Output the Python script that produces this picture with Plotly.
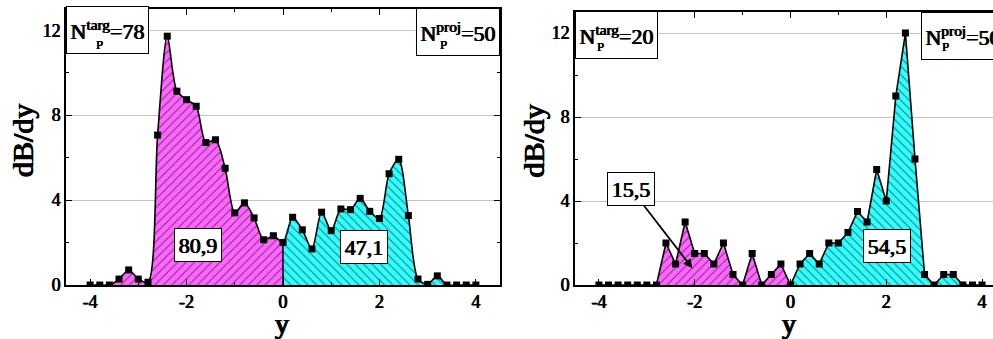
import plotly.graph_objects as go

# ---------------- data ----------------
rapidity = [-4.0, -3.8, -3.6, -3.4, -3.2, -3.0, -2.8, -2.6, -2.4, -2.2, -2.0,
            -1.8, -1.6, -1.4, -1.2, -1.0, -0.8, -0.6, -0.4, -0.2, 0.0,
            0.2, 0.4, 0.6, 0.8, 1.0, 1.2, 1.4, 1.6, 1.8, 2.0,
            2.2, 2.4, 2.6, 2.8, 3.0, 3.2, 3.4, 3.6, 3.8, 4.0]

dbdy_left = [0.0, 0.0, 0.0, 0.28, 0.71, 0.28, 0.13, 7.06, 11.72, 9.13, 8.73,
             8.42, 6.71, 6.84, 5.5, 3.4, 3.87, 3.16, 2.13, 2.32, 2.0,
             3.19, 2.6, 1.7, 3.43, 2.56, 3.58, 3.55, 4.08, 3.47, 3.13,
             5.24, 5.92, 3.27, 0.28, 0.03, 0.43, 0.0, 0.0, 0.0, 0.0]

dbdy_right = [0.0, 0.0, 0.0, 0.0, 0.0, 0.0, 0.0, 2.0, 1.0, 3.0, 1.5,
              1.5, 1.0, 2.0, 0.5, 0.0, 1.5, 0.0, 0.5, 1.0, 0.0,
              1.0, 1.5, 1.0, 2.0, 2.0, 2.5, 3.5, 3.0, 5.5, 4.0,
              9.0, 12.0, 6.0, 0.5, 0.0, 0.5, 0.5, 0.0, 0.0, 0.0]

left_box_labels = ["80,9", "47,1"]
right_box_labels = ["15,5", "54,5"]
np_labels_left = ("targ", "78", "proj", "50")
np_labels_right = ("targ", "20", "proj", "50")
x_ticks = [-4, -2, 0, 2, 4]
y_ticks = [0, 4, 8, 12]

# ---------------- style ----------------
W, H = 993, 339
FONT = "Liberation Serif"
MAGENTA = "#FF66FF"
CYAN = "#33FFFF"


def bold_shadow(d):
    # emulate a bold face by thickening the strokes horizontally
    return "%.2fpx 0 0 black, -%.2fpx 0 0 black" % (d, d)


def px(x):
    return x / W


def py(y):
    return 1 - y / H


fig = go.Figure()


def add_panel(xa, ya, values, shape, smoothing):
    neg_x = [x for x in rapidity if x <= 0]
    neg_y = [v for x, v in zip(rapidity, values) if x <= 0]
    pos_x = [x for x in rapidity if x >= 0]
    pos_y = [v for x, v in zip(rapidity, values) if x >= 0]
    line_kw = dict(width=0, shape=shape, color="rgba(0,0,0,0)")
    if shape == "spline":
        line_kw["smoothing"] = smoothing
    fig.add_trace(go.Scatter(
        x=neg_x, y=neg_y, mode="lines", fill="tozeroy", line=line_kw,
        fillcolor=MAGENTA,
        fillpattern=dict(shape="/", fgcolor="black", bgcolor=MAGENTA,
                         size=6, solidity=0.18),
        xaxis=xa, yaxis=ya, hoverinfo="skip"))
    fig.add_trace(go.Scatter(
        x=pos_x, y=pos_y, mode="lines", fill="tozeroy", line=line_kw,
        fillcolor=CYAN,
        fillpattern=dict(shape="\\", fgcolor="black", bgcolor=CYAN,
                         size=6, solidity=0.18),
        xaxis=xa, yaxis=ya, hoverinfo="skip"))
    v0 = values[rapidity.index(0.0)]
    fig.add_trace(go.Scatter(
        x=[0.0, 0.0], y=[0, v0], mode="lines",
        line=dict(color="black", width=1.5), xaxis=xa, yaxis=ya))
    main_line = dict(color="black", width=1.6, shape=shape)
    if shape == "spline":
        main_line["smoothing"] = smoothing
    fig.add_trace(go.Scatter(
        x=rapidity, y=values, mode="lines+markers", line=main_line,
        marker=dict(symbol="square", size=7, color="black"),
        xaxis=xa, yaxis=ya))


add_panel("x", "y", dbdy_left, "spline", 0.8)
add_panel("x2", "y2", dbdy_right, "linear", 0)

tickfont = dict(family=FONT, size=18, color="black", shadow=bold_shadow(0.45))
common_x = dict(
    tickvals=x_ticks, ticktext=[str(t) for t in x_ticks],
    ticks="inside", ticklen=6, tickwidth=1, tickcolor="black",
    minor=dict(dtick=1, tick0=0, ticks="inside", ticklen=3, tickcolor="black"),
    showline=True, linecolor="black", linewidth=1.5,
    showgrid=False, zeroline=False, tickfont=tickfont, automargin=False)
common_y = dict(
    range=[0, 13], tickvals=y_ticks, ticktext=[str(t) for t in y_ticks],
    ticks="inside", ticklen=6, tickwidth=1, tickcolor="black",
    minor=dict(dtick=2, tick0=0, ticks="inside", ticklen=3, tickcolor="black",
               showgrid=False),
    showline=True, linecolor="black", linewidth=1.5,
    showgrid=True, gridcolor="#c4c4c4", gridwidth=1,
    zeroline=False, tickfont=tickfont, automargin=False)

fig.update_layout(
    width=W, height=H, autosize=False,
    margin=dict(l=0, r=0, t=0, b=0, pad=0, autoexpand=False),
    paper_bgcolor="white", plot_bgcolor="white",
    showlegend=False,
    xaxis=dict(common_x, domain=[px(66), px(500)], range=[-4.5, 4.5],
               anchor="y", mirror="ticks"),
    yaxis=dict(common_y, domain=[py(285), py(9)], anchor="x", mirror="ticks"),
    xaxis2=dict(common_x, domain=[px(575), 1.0],
                range=[-4.5, (993 - 790) / 48.0], anchor="y2", mirror="ticks"),
    yaxis2=dict(common_y, domain=[py(285), py(12)], anchor="x2", mirror=False),
)

annotations = []


def tfont(size, d=0.5):
    return dict(family=FONT, size=size, color="black", shadow=bold_shadow(d))


def box(text, cx, cy, w, h, size=22):
    annotations.append(dict(
        text=text, xref="paper", yref="paper", x=px(cx), y=py(cy),
        xanchor="center", yanchor="middle", showarrow=False,
        width=w, height=h, bgcolor="white", bordercolor="black",
        borderwidth=1, borderpad=0, font=tfont(size)))


def plain(text, cx, cy, size, angle=0, d=0.5):
    annotations.append(dict(
        text=text, xref="paper", yref="paper", x=px(cx), y=py(cy),
        xanchor="center", yanchor="middle", showarrow=False, textangle=angle,
        font=tfont(size, d)))


# N_P boxes
box("N<sup>%s</sup>=%s" % (np_labels_left[0], np_labels_left[1]), 107.5, 30, 81, 46, 22)
plain("P", 99, 44, 13, d=0.35)
box("N<sup>%s</sup>=%s" % (np_labels_left[2], np_labels_left[3]), 458, 32.5, 82, 46, 22)
plain("P", 443.5, 44, 13, d=0.35)
box("N<sup>%s</sup>=%s" % (np_labels_right[0], np_labels_right[1]), 616.5, 35.5, 81, 46, 22)
plain("P", 600, 46, 13, d=0.35)
box("N<sup>%s</sup>=%s" % (np_labels_right[2], np_labels_right[3]), 963, 36, 82, 46, 22)
plain("P", 945, 46.5, 13, d=0.35)

# integral boxes
box(left_box_labels[0], 198.3, 245, 46, 32)
box(left_box_labels[1], 364, 246.7, 46, 32)
box(right_box_labels[1], 887, 246.3, 46, 32)
annotations.append(dict(
    text=right_box_labels[0], xref="x2", yref="y2", x=-2.05, y=0.8,
    ax=-61, ay=-79, axref="pixel", ayref="pixel",
    showarrow=True, arrowhead=2, arrowsize=1, arrowwidth=1.8,
    arrowcolor="black", standoff=0,
    width=46, height=32, bgcolor="white", bordercolor="black",
    borderwidth=1, borderpad=0, font=tfont(22)))

# axis titles
plain("dB/dy", 22, 141, 30, -90, d=0.7)
plain("dB/dy", 532.5, 141, 30, -90, d=0.7)
plain("y", 282, 323, 28, d=0.7)
plain("y", 789, 323, 28, d=0.7)

fig.update_layout(annotations=annotations)
fig.write_html("out.html")
